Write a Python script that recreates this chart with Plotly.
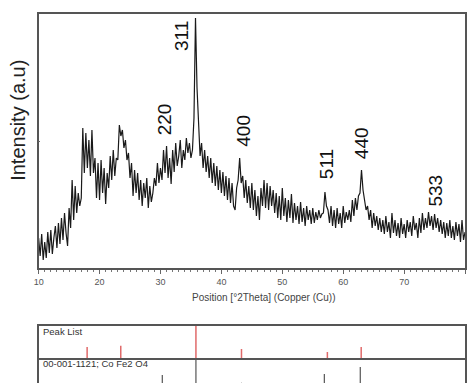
import plotly.graph_objects as go

# --- XRD pattern (2theta from 10 to 80 in steps of 0.25 deg), intensity in arbitrary units ---
two_theta_start = 10.0
two_theta_step = 0.25
intensity = [
    30, 12, 34, 8,  26, 10, 36, 15,  38, 14, 30, 42,  20, 45, 24, 50,  28, 55, 35, 22,      # 10-14.75
    60, 40, 88, 48,  82, 55, 75, 62,  70, 140, 95, 135,  100, 128, 92, 138,  95, 110, 70, 105,  # 15-19.75
    68, 108, 75, 100,  64, 95, 80, 112,  88, 118, 92, 110,  108, 143, 132, 138,  120, 128, 108, 115,  # 20-24.75
    90, 105, 72, 98,  75, 95, 68, 88,  62, 85, 70, 90,  60, 82, 66, 75,  90, 82, 105, 85,  # 25-29.75
    100, 88, 118, 95,  122, 90, 110, 84,  118, 96, 125, 102,  112, 128, 100, 118,  108, 130, 115, 125,  # 30-34.75
    110, 118, 150, 250,  180, 145, 112, 125,  100, 118, 96, 112,  90, 110, 85, 105,  82, 102, 78, 98,  # 35-39.75
    75, 96, 72, 92,  68, 90, 65, 85,  62, 58, 80, 88,  110, 85, 92, 70,  88, 65, 82, 60,  # 40-44.75
    85, 58, 78, 52,  72, 48, 80, 62,  88, 60, 85, 58,  82, 62, 78, 55,  75, 50, 72, 48,  # 45-49.75
    80, 52, 70, 46,  68, 50, 74, 45,  65, 48, 62, 44,  66, 46, 60, 42,  62, 48, 58, 44,  # 50-54.75
    60, 45, 56, 48,  58, 50, 54, 55,  76, 62, 58, 45,  62, 42, 58, 40,  60, 44, 55, 40,  # 55-59.75
    62, 45, 56, 48,  58, 46, 68, 52,  70, 58, 72, 75,  98, 78, 70, 58,  62, 48, 58, 40,  # 60-64.75
    55, 42, 52, 38,  50, 36, 48, 34,  52, 36, 46, 30,  55, 35, 48, 32,  45, 30, 50, 34,  # 65-69.75
    44, 30, 48, 36,  46, 32, 52, 38,  45, 30, 50, 35,  55, 38, 50, 40,  56, 42, 52, 38,  # 70-74.75
    54, 40, 50, 36,  48, 34, 46, 30,  45, 32, 48, 30,  42, 28, 46, 32,  44, 26, 48, 28,  # 75-79.75
    36,  # 80
]
two_theta = [two_theta_start + i * two_theta_step for i in range(len(intensity))]

# --- Peak labels (hkl) ---
hkl_labels = ["220", "311", "400", "511", "440", "533"]
hkl_x = [30.8, 33.55, 43.5, 57.2, 62.95, 75.0]
hkl_y = [149, 232, 137, 104, 125, 77]

# --- Peak list (measured) ---
peak_pos = [17.96, 23.48, 35.82, 43.3, 57.4, 62.95]
peak_rel = [34, 38, 100, 28, 19, 34]

# --- Reference pattern 00-001-1121; Co Fe2 O4 ---
ref_pos = [30.3, 35.82, 43.3, 56.9, 62.8]
ref_rel = [47, 100, 23, 50, 72]

x_ticks = [10, 20, 30, 40, 50, 60, 70, 80]

W, H = 470, 383
def px_x(p):
    return p / W
def px_y(p):
    return (H - p) / H

def sticks(pos, rel):
    xs, ys = [], []
    for p, r in zip(pos, rel):
        xs += [p, p, None]
        ys += [0, r, None]
    return xs, ys

fig = go.Figure()
fig.add_trace(go.Scatter(x=two_theta, y=intensity, mode="lines",
                         line=dict(color="#1a1a1a", width=1.2), xaxis="x", yaxis="y",
                         showlegend=False, hoverinfo="skip"))
px_, py_ = sticks(peak_pos, peak_rel)
fig.add_trace(go.Scatter(x=px_, y=py_, mode="lines", line=dict(color="#e06a6a", width=1.5),
                         xaxis="x2", yaxis="y2", showlegend=False, hoverinfo="skip"))
rx_, ry_ = sticks(ref_pos, ref_rel)
fig.add_trace(go.Scatter(x=rx_, y=ry_, mode="lines", line=dict(color="#555555", width=1.2),
                         xaxis="x3", yaxis="y3", showlegend=False, hoverinfo="skip"))

xdom = [px_x(34), px_x(465)]
frame = dict(showline=True, linecolor="#555555", linewidth=1.5, mirror=True,
             showgrid=False, zeroline=False)

fig.update_layout(
    width=W, height=H, margin=dict(l=0, r=0, t=0, b=0),
    paper_bgcolor="white", plot_bgcolor="white",
    font=dict(family="Liberation Sans, Arial, sans-serif", color="#444444"),
    xaxis=dict(domain=xdom, range=[10, 80], anchor="y", tickvals=x_ticks,
               ticks="outside", ticklen=4, tickcolor="#666666", tickwidth=1,
               tickfont=dict(size=9, color="#555555"),
               minor=dict(dtick=1, ticks="outside", ticklen=2.5, tickcolor="#777777"),
               **frame),
    yaxis=dict(domain=[px_y(268), px_y(14)], range=[0, 254], anchor="x",
               showticklabels=False, ticks="inside", tickvals=[127], ticklen=2,
               tickcolor="#666666", **frame),
    xaxis2=dict(domain=xdom, range=[10, 80], anchor="y2", showticklabels=False,
                ticks="", **frame),
    yaxis2=dict(domain=[px_y(358), px_y(326)], range=[0, 100], anchor="x2",
                showticklabels=False, ticks="", **frame),
    xaxis3=dict(domain=xdom, range=[10, 80], anchor="y3", showticklabels=False,
                ticks="", showline=False, showgrid=False, zeroline=False),
    yaxis3=dict(domain=[0, px_y(358)], range=[100 - 25 / 32 * 100, 100], anchor="x3",
                showticklabels=False, ticks="", **frame),
)

annotations = []
for lab, x, y in zip(hkl_labels, hkl_x, hkl_y):
    annotations.append(dict(x=x, y=y, xref="x", yref="y", text=lab, showarrow=False,
                            textangle=-90, xanchor="center", yanchor="middle",
                            font=dict(size=19, color="#111111")))
annotations.append(dict(x=px_x(17), y=px_y(120), xref="paper", yref="paper",
                        text="Intensity (a.u)", showarrow=False, textangle=-90,
                        xanchor="center", yanchor="middle", xshift=-4,
                        font=dict(size=20, color="#222222")))
annotations.append(dict(x=px_x(262), y=px_y(297), xref="paper", yref="paper",
                        text="Position [°2Theta] (Copper (Cu))", showarrow=False,
                        xanchor="center", yanchor="middle",
                        font=dict(size=10, color="#444444")))
annotations.append(dict(x=px_x(36), y=px_y(331), xref="paper", yref="paper",
                        text="Peak List", showarrow=False, xanchor="left", yanchor="middle",
                        font=dict(size=9.5, color="#333333")))
annotations.append(dict(x=px_x(36), y=px_y(363), xref="paper", yref="paper",
                        text="00-001-1121; Co Fe2 O4", showarrow=False, xanchor="left",
                        yanchor="middle", font=dict(size=9.5, color="#333333")))
fig.update_layout(annotations=annotations)

fig.write_html("out.html", config={"displayModeBar": False},
               post_script="document.body.style.margin='0';document.body.style.overflow='hidden';")
